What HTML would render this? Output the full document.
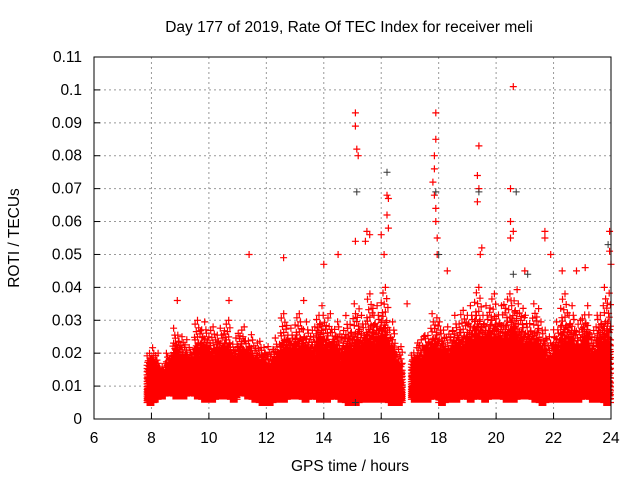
<!DOCTYPE html>
<html><head><meta charset="utf-8"><style>
body{margin:0;background:#fff;}
svg{display:block;font-family:"Liberation Sans",sans-serif;}
</style></head><body>
<svg id="chart" width="640" height="480">
<text x="349" y="32" font-size="15.5" text-anchor="middle">Day 177 of 2019, Rate Of TEC Index for receiver meli</text>
<text x="350" y="471" font-size="15.5" text-anchor="middle">GPS time / hours</text>
<text transform="translate(19,238) rotate(-90)" font-size="15.5" text-anchor="middle">ROTI / TECUs</text>
<g id="grid"></g><g id="marks"></g><g id="axes"></g>
</svg>
<script>
const xTicks=[6,8,10,12,14,16,18,20,22,24];
const yTicks=[0,0.01,0.02,0.03,0.04,0.05,0.06,0.07,0.08,0.09,0.1,0.11];
const yTickLabels=["0","0.01","0.02","0.03","0.04","0.05","0.06","0.07","0.08","0.09","0.1","0.11"];
const binStart=[7.85,8,8.25,8.5,8.75,9,9.25,9.5,9.75,10,10.25,10.5,10.75,11,11.25,11.5,11.75,12,12.25,12.5,12.75,13,13.25,13.5,13.75,14,14.25,14.5,14.75,15,15.25,15.5,15.75,16,16.25,16.5,17.05,17.25,17.5,17.75,18,18.25,18.5,18.75,19,19.25,19.5,19.75,20,20.25,20.5,20.75,21,21.25,21.5,21.75,22,22.25,22.5,22.75,23,23.25,23.5,23.75];
const binLow=[0.005,0.006,0.007,0.008,0.007,0.007,0.008,0.007,0.006,0.006,0.007,0.007,0.006,0.008,0.007,0.006,0.005,0.005,0.006,0.006,0.007,0.007,0.006,0.007,0.006,0.006,0.007,0.006,0.005,0.005,0.006,0.006,0.006,0.006,0.005,0.005,0.006,0.006,0.006,0.007,0.005,0.006,0.006,0.007,0.006,0.007,0.006,0.007,0.007,0.006,0.006,0.007,0.007,0.006,0.005,0.006,0.006,0.006,0.006,0.006,0.007,0.006,0.006,0.005];
const binHigh=[0.022,0.02,0.017,0.02,0.028,0.025,0.022,0.03,0.03,0.028,0.028,0.03,0.025,0.028,0.026,0.024,0.024,0.022,0.025,0.032,0.028,0.032,0.03,0.028,0.035,0.032,0.03,0.028,0.032,0.035,0.032,0.038,0.035,0.04,0.03,0.022,0.022,0.025,0.028,0.032,0.03,0.028,0.032,0.033,0.035,0.04,0.035,0.038,0.035,0.038,0.04,0.035,0.032,0.035,0.03,0.025,0.03,0.038,0.035,0.03,0.035,0.028,0.035,0.04];
const outT=[11.4,12.6,15.1,15.1,15.15,15.2,15.5,15.45,16.2,16.25,16.2,16.25,17.9,17.9,17.85,17.85,17.8,17.85,17.9,17.9,17.95,17.95,19.4,19.35,19.4,19.35,19.45,20.6,20.5,20.5,20.6,20.5,21.7,21.7,23.95,23.95,15.1,14.5,14.0,8.9,10.7,13.3,18.3,16.0,22.3,23.1,19.5,16.1,15.6,22.8,21.0,21.9,16.9,24.0];
const outV=[0.05,0.049,0.093,0.089,0.082,0.08,0.057,0.054,0.068,0.067,0.062,0.058,0.093,0.085,0.08,0.076,0.072,0.068,0.064,0.06,0.055,0.05,0.083,0.074,0.07,0.066,0.05,0.101,0.07,0.06,0.057,0.055,0.057,0.055,0.057,0.051,0.054,0.05,0.047,0.036,0.036,0.036,0.045,0.056,0.045,0.046,0.052,0.05,0.056,0.045,0.045,0.05,0.035,0.047];
const blackT=[15.15,16.2,17.9,19.4,20.7,23.9,15.1,20.6,21.1,18.0];
const blackV=[0.069,0.075,0.069,0.069,0.069,0.053,0.005,0.044,0.044,0.05];

const X0=94,X1=611,Y0=419,Y1=57;
const xs=t=>X0+(t-6)/18*(X1-X0);
const ys=v=>Y0-v/0.11*(Y0-Y1);
const NS="http://www.w3.org/2000/svg";
const grid=document.getElementById('grid'),axes=document.getElementById('axes'),marks=document.getElementById('marks');
function mk(tag,attrs,parent){const e=document.createElementNS(NS,tag);for(const k in attrs)e.setAttribute(k,attrs[k]);parent.appendChild(e);return e;}
xTicks.forEach((t,i)=>{
  const x=xs(t);
  if(i>0&&i<xTicks.length-1){const g=mk('line',{x1:x,y1:Y1,x2:x,y2:Y0,stroke:'#999','stroke-dasharray':'2,3'},grid);
  
  }
  const tk=mk('line',{x1:x,y1:Y0,x2:x,y2:Y0-6,stroke:'#000'},axes);
  
  
  const lb=mk('text',{x:x,y:443,'font-size':15.5,'text-anchor':'middle'},axes);lb.textContent=t;
  
  
});
yTicks.forEach((v,i)=>{
  const y=ys(v);
  if(i>0&&i<yTicks.length-1){const g=mk('line',{x1:X0,y1:y,x2:X1,y2:y,stroke:'#999','stroke-dasharray':'2,3'},grid);
  
  }
  const tk=mk('line',{x1:X0,y1:y,x2:X0+6,y2:y,stroke:'#000'},axes);
  
  
  const lb=mk('text',{x:82,y:y+5,'font-size':15.5,'text-anchor':'end'},axes);lb.textContent=yTickLabels[i];
  
  
});
const frame=mk('rect',{x:X0,y:Y1,width:X1-X0,height:Y0-Y1,fill:'none',stroke:'#000'},axes);


const fr=[0,0.04,0.08,0.12,0.16,0.2,0.25,0.3,0.35,0.4,0.46,0.52,0.58,0.64,0.7,0.78,0.88,1];
const capSeq=[0.95,0.72,0.85,0.65,1.0,0.78,0.9,0.68,0.82,0.98,0.7,0.88];
let d='';
function plus(t,v){const x=xs(t),y=ys(v);d+=`M${(x-3.5).toFixed(1)} ${y.toFixed(1)}h7M${x.toFixed(1)} ${(y-3.5).toFixed(1)}v7`;}
binStart.forEach((t0,i)=>{
  const lo=binLow[i],hi=binHigh[i];
  for(let s=0;s<12;s++){
    const t=t0+s*0.021;
    const cap=capSeq[(s+i*5)%12];
    fr.forEach((f,j)=>{
      if(f<0.7 || (j+s)%2===0) plus(t,lo+(hi-lo)*f*cap);
    });
  }
});
outT.forEach((t,i)=>plus(t,outV[i]));
const red=mk('path',{d:d,stroke:'#f00','stroke-width':1.2,fill:'none'},marks);


d='';
blackT.forEach((t,i)=>plus(t,blackV[i]));
const blk=mk('path',{d:d,stroke:'#333','stroke-width':1,fill:'none'},marks);


</script>
</body></html>
